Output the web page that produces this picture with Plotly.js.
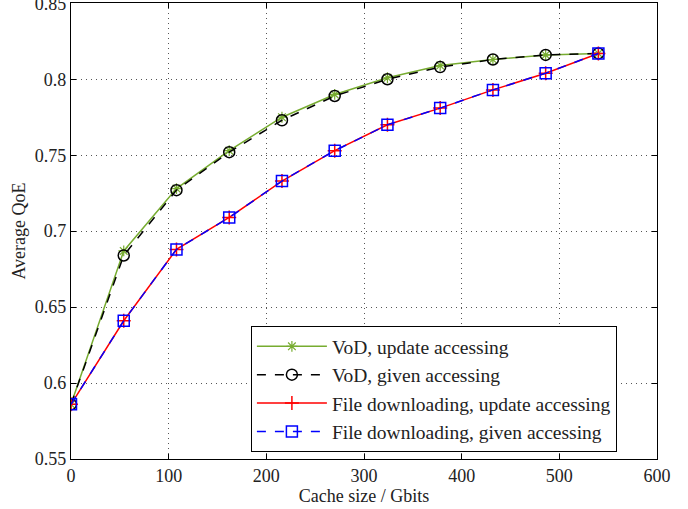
<!DOCTYPE html>
<html>
<head>
<meta charset="utf-8">
<script src="https://cdn.plot.ly/plotly-3.0.1.min.js"></script>
<style>html,body{margin:0;padding:0;background:#fff;}#chart{width:688px;height:509px;}</style>
</head>
<body>
<div id="chart"></div>
<script>
const cacheSize = [0, 54, 108, 162, 216, 270, 324, 378, 432, 486, 540];
const vodUpdate = [0.586, 0.687, 0.728, 0.753, 0.775, 0.790, 0.801, 0.809, 0.813, 0.816, 0.817];
const vodGiven = [0.586, 0.684, 0.727, 0.752, 0.773, 0.789, 0.800, 0.808, 0.813, 0.816, 0.817];
const fileUpdate = [0.586, 0.641, 0.688, 0.709, 0.733, 0.753, 0.770, 0.781, 0.793, 0.804, 0.817];
const fileGiven = [0.586, 0.641, 0.688, 0.709, 0.733, 0.753, 0.770, 0.781, 0.793, 0.804, 0.817];
const seriesNames = ["VoD, update accessing", "VoD, given accessing", "File downloading, update accessing", "File downloading, given accessing"];
const yTickVals = [0.55, 0.6, 0.65, 0.7, 0.75, 0.8, 0.85];
const yTickText = ["0.55", "0.6", "0.65", "0.7", "0.75", "0.8", "0.85"];

const FONT = 'Liberation Serif';

const traces = [
  {x: cacheSize, y: vodUpdate, name: seriesNames[0], mode: 'lines+markers',
   line: {color: '#77ac30', width: 1.5},
   marker: {symbol: 'asterisk-open', size: 9, color: '#77ac30', line: {color: '#77ac30', width: 1.2}}},
  {x: cacheSize, y: vodGiven, name: seriesNames[1], mode: 'lines+markers',
   line: {color: '#000000', width: 1.5, dash: 'dash'},
   marker: {symbol: 'circle-open', size: 11, color: '#000000', line: {color: '#000000', width: 1.5}}},
  {x: cacheSize, y: fileUpdate, name: seriesNames[2], mode: 'lines+markers',
   line: {color: '#ff0000', width: 1.5},
   marker: {symbol: 'cross-thin-open', size: 10, color: '#ff0000', line: {color: '#ff0000', width: 1.5}}},
  {x: cacheSize, y: fileGiven, name: seriesNames[3], mode: 'lines+markers',
   line: {color: '#0000ff', width: 1.5, dash: 'dash'},
   marker: {symbol: 'square-open', size: 11, color: '#0000ff', line: {color: '#0000ff', width: 1.5}}}
];

const axisCommon = {
  showline: true, linecolor: '#000', linewidth: 1.2, mirror: 'ticks',
  ticks: 'inside', ticklen: 5, tickcolor: '#000',
  showgrid: true, gridcolor: '#555', griddash: '1px,4px', gridwidth: 1,
  zeroline: false, ticklabeloverflow: 'allow',
  tickfont: {family: FONT, size: 18, color: '#222'}
};

const layout = {
  width: 688, height: 509,
  margin: {l: 71, r: 31, t: 3, b: 50},
  paper_bgcolor: '#fff', plot_bgcolor: '#fff',
  font: {family: FONT, color: '#222'},
  xaxis: Object.assign({}, axisCommon, {
    range: [0, 600], dtick: 100, tick0: 0,
    title: {text: 'Cache size / Gbits', font: {size: 18, family: FONT, color: '#222'}, standoff: 4}
  }),
  yaxis: Object.assign({}, axisCommon, {
    range: [0.55, 0.8502], tickmode: 'array', tickvals: yTickVals, ticktext: yTickText,
    title: {text: 'Average QoE', font: {size: 18, family: FONT, color: '#222'}, standoff: 4}
  }),
  showlegend: true,
  legend: {
    x: 0.307, y: 0.015, xanchor: 'left', yanchor: 'bottom',
    bgcolor: '#fff', bordercolor: '#000', borderwidth: 1,
    font: {family: FONT, size: 19.5, color: '#222'},
    tracegroupgap: 0, itemwidth: 70
  }
};

Plotly.newPlot('chart', traces, layout, {displayModeBar: false, staticPlot: true});
</script>
</body>
</html>
